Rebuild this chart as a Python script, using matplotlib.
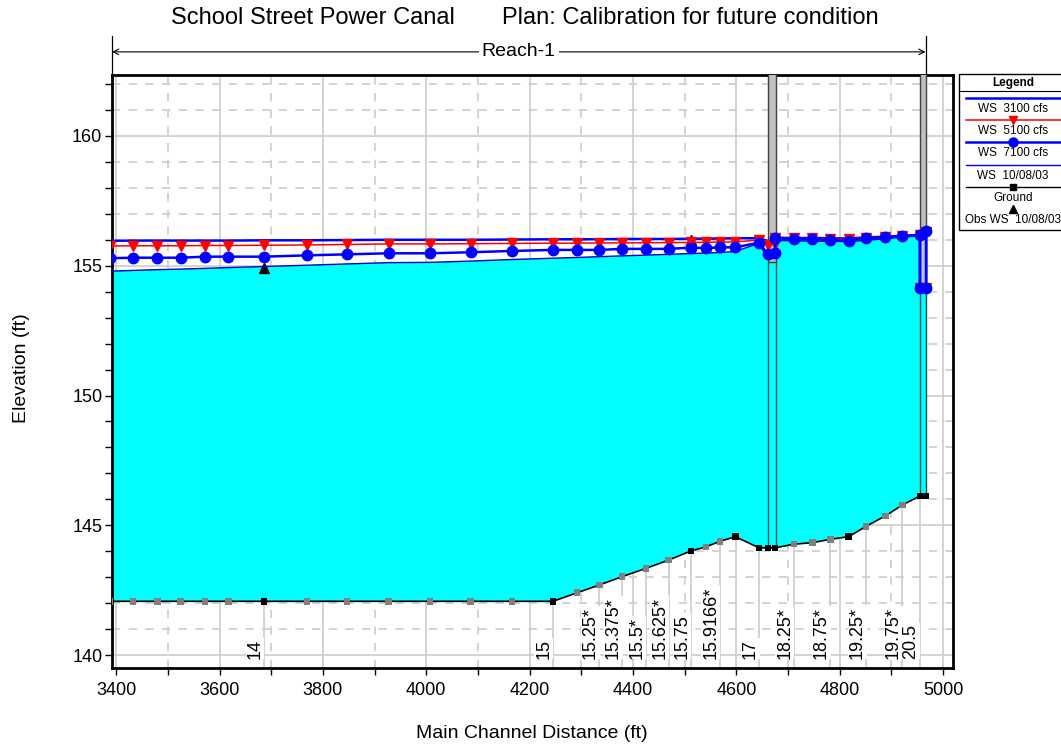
import numpy as np
import matplotlib.pyplot as plt
import matplotlib.transforms as mtransforms
from matplotlib.patches import Rectangle

plt.rcParams['font.family'] = ['Liberation Sans', 'DejaVu Sans']

# main channel distance (ft); 4675, 4955 and 4967 are repeated where the
# water surface steps vertically at the bridge and at the end structure
station = [3388, 3433, 3480, 3525, 3572, 3617, 3686, 3769, 3847, 3927,
           4007, 4086, 4166, 4245, 4292, 4335, 4379, 4425, 4469, 4512,
           4541, 4568, 4598, 4644, 4661, 4675, 4675, 4711, 4747, 4782,
           4817, 4851, 4888, 4921, 4955, 4955, 4967, 4967]
ground = [142.07, 142.07, 142.07, 142.07, 142.07, 142.07, 142.07, 142.07, 142.07, 142.07,
          142.07, 142.07, 142.07, 142.07, 142.40, 142.70, 143.02, 143.34, 143.66, 144.01,
          144.17, 144.38, 144.56, 144.13, 144.13, 144.13, 144.13, 144.27, 144.33, 144.46,
          144.56, 144.96, 145.36, 145.78, 146.13, 146.13, 146.13, 146.13]
ws_3100 = [155.96, 155.97, 155.97, 155.97, 155.97, 155.97, 155.98, 155.98, 155.99, 156.00,
           156.00, 156.00, 156.01, 156.02, 156.02, 156.02, 156.03, 156.03, 156.03, 156.04,
           156.04, 156.05, 156.06, 156.06, 155.95, 155.96, 156.08, 156.07, 156.07, 156.06,
           156.05, 156.09, 156.12, 156.15, 156.18, 154.15, 154.15, 156.30]
ws_5100 = [155.76, 155.77, 155.77, 155.77, 155.78, 155.78, 155.79, 155.80, 155.82, 155.84,
           155.84, 155.85, 155.86, 155.87, 155.87, 155.88, 155.88, 155.89, 155.89, 155.90,
           155.90, 155.91, 155.92, 155.99, 155.80, 155.82, 156.07, 156.05, 156.05, 156.03,
           156.02, 156.08, 156.11, 156.14, 156.17, 154.15, 154.15, 156.30]
ws_7100 = [155.29, 155.31, 155.31, 155.31, 155.35, 155.35, 155.35, 155.40, 155.44, 155.48,
           155.48, 155.52, 155.57, 155.61, 155.61, 155.61, 155.65, 155.65, 155.65, 155.70,
           155.68, 155.71, 155.71, 155.89, 155.44, 155.50, 156.06, 156.02, 156.02, 155.99,
           155.97, 156.06, 156.10, 156.15, 156.18, 154.15, 154.15, 156.34]
ws_100803 = [154.79, 154.82, 154.85, 154.87, 154.90, 154.93, 154.97, 155.02, 155.07, 155.12,
             155.13, 155.18, 155.24, 155.29, 155.32, 155.35, 155.38, 155.41, 155.44, 155.47,
             155.49, 155.51, 155.55, 155.87, 155.25, 155.30, 155.97, 155.96, 155.95, 155.94,
             155.93, 155.98, 156.04, 156.10, 156.15, 154.15, 154.15, 156.30]
obs_station = [3686, 4512]
obs_ws = [154.93, 155.98]

# surveyed sections get black ground markers, interpolated ones gray
surveyed = [3686, 4245, 4512, 4598, 4644, 4661, 4675, 4817, 4955, 4967]

rs_station = [3686, 4245, 4335, 4379, 4425, 4469, 4512, 4568, 4644, 4711,
              4782, 4851, 4921, 4955]
rs_label = ['14', '15', '15.25*', '15.375*', '15.5*', '15.625*', '15.75',
            '15.9166*', '17', '18.25*', '18.75*', '19.25*', '19.75*', '20.5']

# bridge deck and end structure: left, right, bottom elevation
bridge = [4661, 4676, 155.16]
gate = [4956, 4966, 154.15]

reach_start, reach_end = 3392, 4966

W, H = 1061, 744
fig = plt.figure(figsize=(W / 100, H / 100), dpi=100)
ax = fig.add_axes([112 / W, 1 - 668 / H, (953 - 112) / W, (668 - 75) / H])

ax.set_xlim(3392, 5019)
ax.set_ylim(139.5, 162.35)
ax.set_xticks(np.arange(3400, 5001, 200))
ax.set_xticks(np.arange(3500, 5000, 200), minor=True)
ax.set_yticks(np.arange(140, 161, 5))
ax.set_yticks(np.arange(140, 163, 1), minor=True)
ax.set_axisbelow(True)
ax.grid(which='major', color='#cccccc', lw=1.2, ls='-')
ax.grid(which='minor', color='#cccccc', lw=1.2, ls=(0, (5, 5)))
ax.tick_params(which='both', direction='out', length=5, width=1, labelsize=13)
ax.tick_params(axis='x', pad=5)
ax.tick_params(axis='y', pad=2)
for sp in ax.spines.values():
    sp.set_linewidth(2)

# water fill between ground and the 10/08/03 surface
xs = list(station) + station[::-1]
ys = list(ws_100803) + ground[::-1]
ax.fill(xs, ys, color='#00ffff', lw=0, zorder=2)

# cross-section lines and labels under the ground
lab_tr = mtransforms.blended_transform_factory(ax.transData, ax.transAxes)
for s, lab in zip(rs_station, rs_label):
    g = ground[station.index(s)]
    ax.plot([s, s], [139.5, g], color='#cccccc', lw=1.2, zorder=1.5)
    ax.text(s - 1, 0.016, lab, rotation=90, ha='right', va='bottom',
            fontsize=13, transform=lab_tr, zorder=3,
            bbox=dict(boxstyle='square,pad=0.05', fc='white', ec='none'))

# bridge and structure
for left, right, bot in [bridge, gate]:
    ax.add_patch(Rectangle((left, bot), right - left, 30, fc='#c0c0c0',
                           ec='#404040', lw=1, zorder=3))
    gl = ground[station.index(min(station, key=lambda v: abs(v - left)))]
    ax.plot([left, left], [gl, bot], color='#205050', lw=1, zorder=3)
    ax.plot([right, right], [gl, bot], color='#205050', lw=1, zorder=3)

ax.plot(obs_station, obs_ws, ls='none', marker='^', ms=7, color='black', zorder=4)
ax.plot(station, ws_100803, color='#0000c0', lw=1.0, zorder=5)
ax.plot(station, ws_3100, color='#0000ff', lw=1.8, zorder=6)
ax.plot(station, ws_5100, color='#ff0000', lw=1.1, marker='v', ms=7,
        mec='#ff0000', zorder=7)
ax.plot(station, ws_7100, color='#0000ff', lw=1.8, marker='o', ms=7.5,
        mec='#0000ff', zorder=8)
ax.plot(station, ground, color='black', lw=1.2, zorder=6)
gcol = ['black' if s in surveyed else '#808080' for s in station]
ax.scatter(station, ground, marker='s', s=22, c=gcol, zorder=7, lw=0)

# reach annotation above the plot
ax.annotate('', xy=(reach_start, 1.039), xytext=(reach_end, 1.039),
            xycoords=lab_tr, textcoords=lab_tr, annotation_clip=False,
            arrowprops=dict(arrowstyle='<->', lw=0.8, color='black',
                            shrinkA=0, shrinkB=0))
for s in [reach_start, reach_end]:
    ax.plot([s, s], [1.0, 1.066], transform=lab_tr, clip_on=False,
            color='black', lw=0.9)
ax.text((reach_start + reach_end) / 2, 1.039, 'Reach-1', transform=lab_tr,
        ha='center', va='center', fontsize=14,
        bbox=dict(boxstyle='square,pad=0.15', fc='white', ec='none'))

fig.text(313 / W, 1 - 18 / H, 'School Street Power Canal', ha='center',
         va='center', fontsize=17)
fig.text(690 / W, 1 - 18 / H, 'Plan: Calibration for future condition',
         ha='center', va='center', fontsize=17)
fig.text(532 / W, 1 - 733 / H, 'Main Channel Distance (ft)', ha='center',
         va='center', fontsize=14)
fig.text(22 / W, 1 - 368 / H, 'Elevation (ft)', ha='center', va='center',
         rotation=90, fontsize=14)

# legend box on the right
lax = fig.add_axes([957 / W, 1 - 232 / H, 112 / W, (232 - 73) / H])
lax.set_xlim(957, 1069)
lax.set_ylim(232, 73)
lax.axis('off')
lax.add_patch(Rectangle((959, 74), 120, 156, fill=False, ec='black', lw=1,
                        clip_on=False))
lax.text(1013, 83.5, 'Legend', ha='center', va='center', fontsize=8.5,
         fontweight='bold')
lax.plot([959, 1069], [91, 91], color='black', lw=0.8)
leg_names = ['WS  3100 cfs', 'WS  5100 cfs', 'WS  7100 cfs', 'WS  10/08/03',
             'Ground', 'Obs WS  10/08/03']
leg_style = [dict(color='#0000ff', lw=1.8),
             dict(color='#ff0000', lw=1.1, marker='v', ms=6),
             dict(color='#0000ff', lw=1.8, marker='o', ms=6.5),
             dict(color='#0000ff', lw=1.0),
             dict(color='black', lw=1.0, marker='s', ms=4),
             dict(color='black', lw=0, marker='^', ms=6)]
for i, (name, st) in enumerate(zip(leg_names, leg_style)):
    ly = 98 + i * 22.2
    if st.get('marker'):
        lax.plot([966, 1069], [ly, ly], color=st['color'], lw=st['lw'])
        lax.plot([1013], [ly], ls='none', marker=st['marker'], ms=st['ms'],
                 color=st['color'])
    else:
        lax.plot([966, 1069], [ly, ly], **st)
    lax.text(1013, ly + 11, name, ha='center', va='center', fontsize=8.5)

fig.savefig('out.png', dpi=100)
